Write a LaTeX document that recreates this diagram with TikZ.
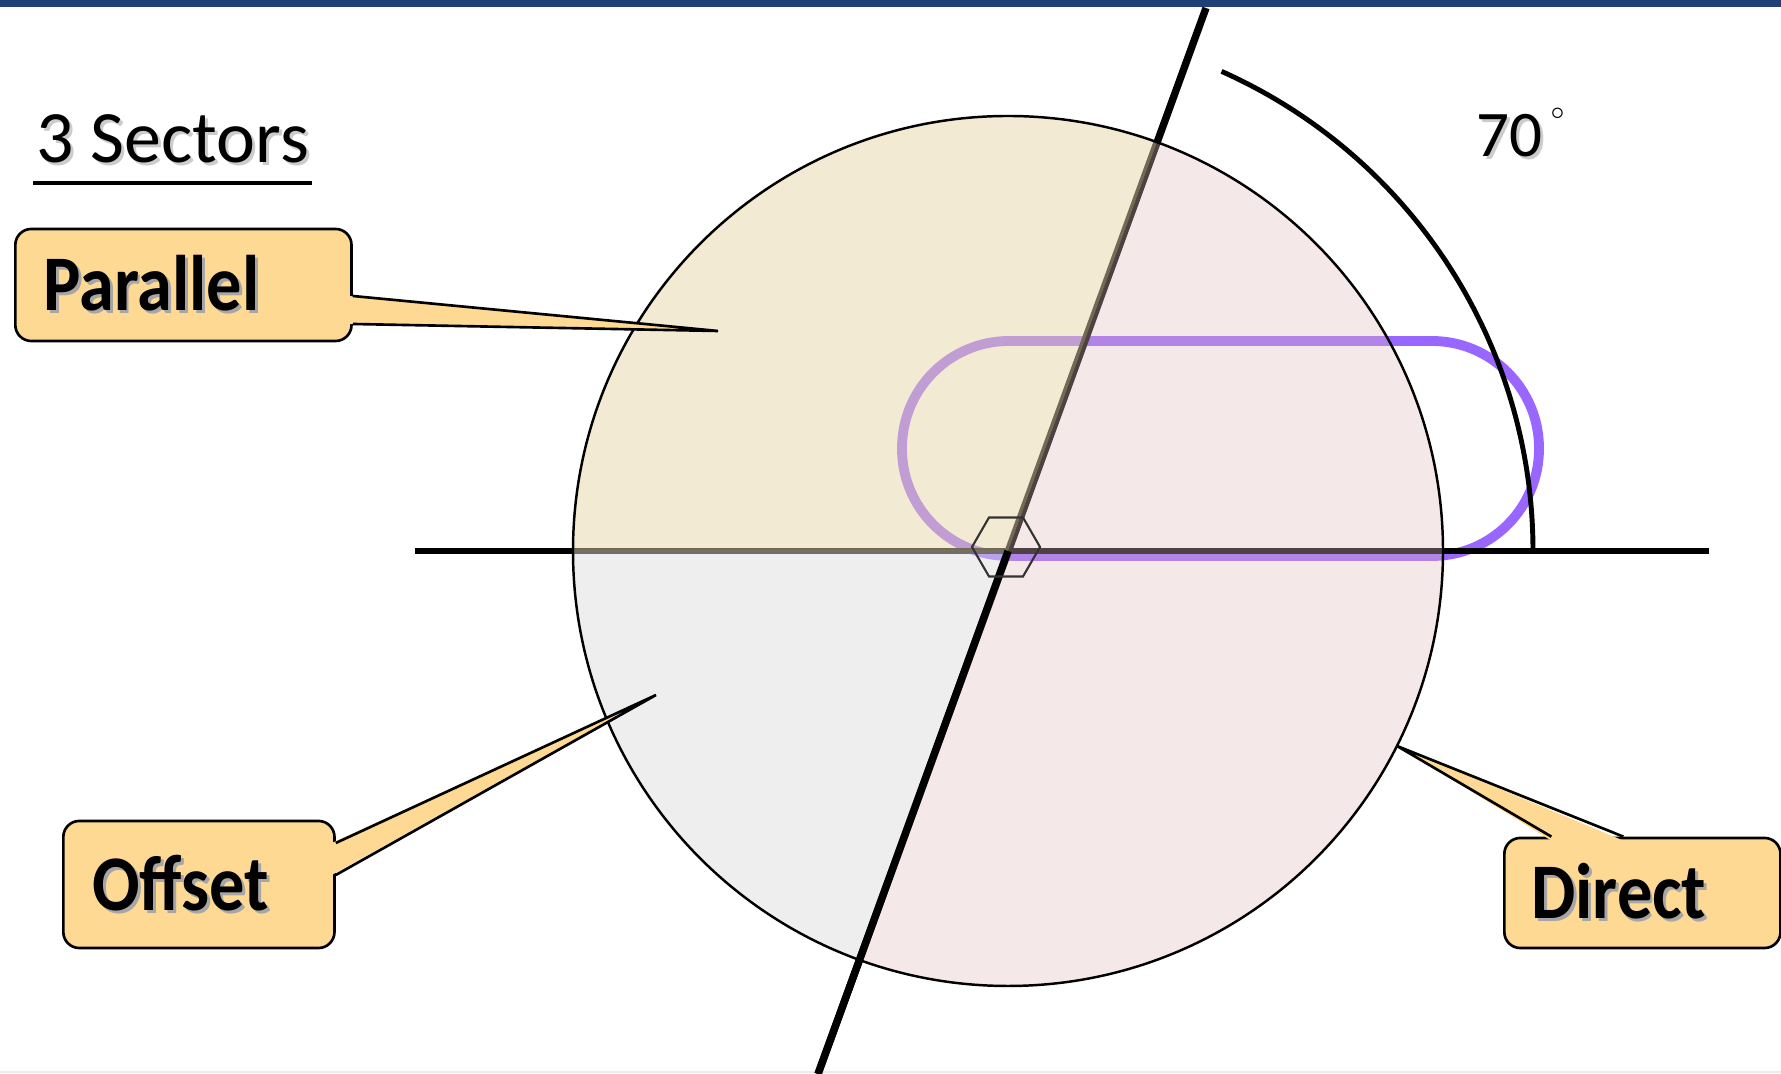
\documentclass[tikz,border=0pt]{standalone}
\usepackage{fontspec}
\setmainfont{Carlito}
\usetikzlibrary{calc,shapes.geometric}
\definecolor{barblue}{RGB}{31,63,119}
\definecolor{calloutfill}{RGB}{254,217,148}
\definecolor{trackpurple}{RGB}{153,102,255}
\definecolor{parcol}{RGB}{231,213,169}
\definecolor{offcol}{RGB}{221,221,221}
\definecolor{dircol}{RGB}{226,189,189}
% text with a soft drop shadow
\newcommand{\shtxt}[2][black!35]{\makebox[0pt][l]{\hspace{0.04em}\raisebox{-0.04em}{\textcolor{#1}{#2}}}#2}
\newcommand{\calltext}[1]{\scalebox{1}[1.12]{\shtxt{#1}}}

\begin{document}
\begin{tikzpicture}[x=0.01cm, y=-0.01cm,
  every node/.style = {inner sep=0pt},
  callout/.style = {draw, line width=0.75pt, fill=calloutfill,
                    rounded corners=0.16cm, align=left,
                    font=\fontsize{20}{24}\selectfont\bfseries},
  pointer/.style = {line width=0.75pt, line join=miter},
  axis/.style    = {line width=1.8pt},
  track/.style   = {draw=trackpurple, line width=2.8pt, rounded corners=1.07cm},
  hub/.style     = {regular polygon, regular polygon sides=6, draw=black!80,
                    line width=0.6pt, minimum size=0.68cm},
  anglearc/.style = {line width=1.4pt},
]
  \useasboundingbox (0,0) rectangle (1781,1074);
  \fill[barblue] (0,0) rectangle (1781,7);
  \draw[black!8, line width=0.6pt] (0,1072) -- (1781,1072);

  \coordinate (O) at (1008,551);
  \coordinate (top) at (1206,8);
  \coordinate (bot) at (818,1074);
  \coordinate (hl) at (415,551);
  \coordinate (hr) at (1709,551);

  % purple track behind the sectors
  \draw[track] (902,341) rectangle (1539,556);

  \draw[axis] (hl) -- (hr);
  \draw[axis, line width=2.1pt] (top) -- (bot);

  % the three sectors
  \fill[parcol, fill opacity=0.5] (O) -- ++(-70:435)
    arc[start angle=-70, end angle=-180, radius=435] -- cycle;
  \fill[offcol, fill opacity=0.5] (O) -- ++(-180:435)
    arc[start angle=-180, end angle=-250, radius=435] -- cycle;
  \fill[dircol, fill opacity=0.35] (O) -- ++(-250:435)
    arc[start angle=-250, end angle=-430, radius=435] -- cycle;
  \draw[axis, line width=2.1pt] (O) -- (bot);
  \draw[line width=0.7pt] (O) circle[radius=435];

  \node[hub] (hub) at (1006,547) {};

  % 70 degree mark
  \draw[anglearc] ($(O)+(525,0)$) arc[start angle=0, end angle=-66, radius=525];
  \node[anchor=base west, font=\fontsize{18.5}{22}\selectfont] (deg) at (1476,157)
    {\shtxt[black!20]{70}\hspace{0.12em}\raisebox{0.58em}{\fontsize{7}{7}\selectfont$\circ$}};

  \node[anchor=base west, font=\fontsize{21}{25}\selectfont] (title) at (36,163)
    {\shtxt[black!20]{3 Sectors}};
  \draw[line width=1pt] ($(title.base west)+(-3,20)$) -- ($(title.base east)+(2,20)$);

  % callouts
  \node[callout, anchor=west, minimum height=1.12cm, text width=2.8cm,
        inner xsep=0.28cm] (par) at (14,285) {\calltext{Parallel}};
  \node[callout, anchor=west, minimum height=1.27cm, text width=2.13cm,
        inner xsep=0.29cm] (off) at (62,884.5) {\calltext{Offset}};
  \node[callout, anchor=west, minimum height=1.10cm, text width=2.22cm,
        inner xsep=0.27cm] (dir) at (1503,893) {\calltext{Direct}};

  \coordinate (parTip) at (718,331);
  \coordinate (offTip) at (656,695);
  \coordinate (dirTip) at (1397,746);

  \fill[calloutfill] ($(par.east)+(-4,11)$) -- (parTip) -- ($(par.east)+(-4,39)$) -- cycle;
  \draw[pointer] ($(par.east)+(0,11)$) -- (parTip) -- ($(par.east)+(0,39)$);

  \fill[calloutfill] ($(off.east)+(-4,-41.5)$) -- (offTip) -- ($(off.east)+(-4,-9.5)$) -- cycle;
  \draw[pointer] ($(off.east)+(0,-41.5)$) -- (offTip) -- ($(off.east)+(0,-9.5)$);

  \fill[calloutfill] ($(dir.north)+(-91,4)$) -- (dirTip) -- ($(dir.north)+(-19,4)$) -- cycle;
  \draw[pointer] ($(dir.north)+(-91,0)$) -- (dirTip) -- ($(dir.north)+(-19,0)$);
\end{tikzpicture}
\end{document}
